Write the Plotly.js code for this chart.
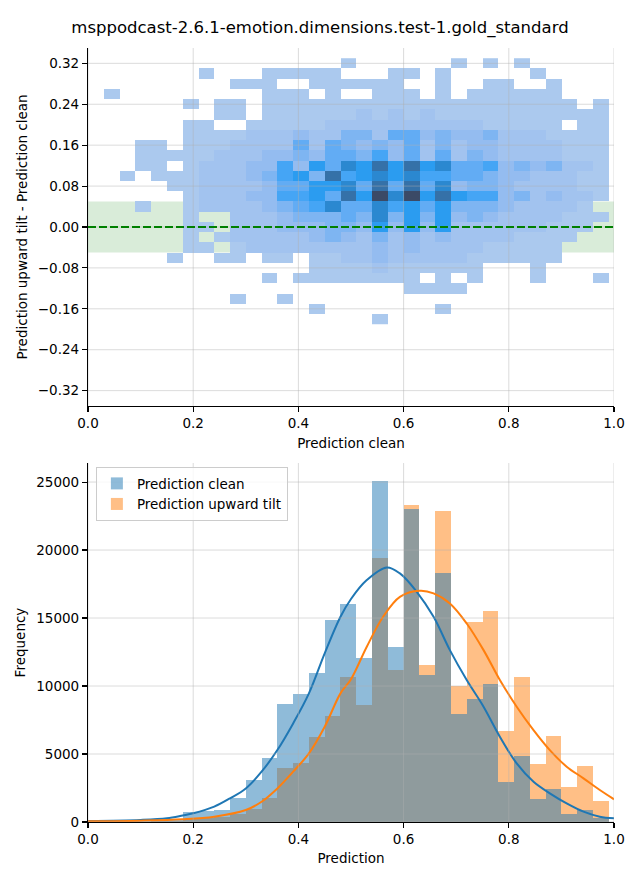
<!DOCTYPE html>
<html>
<head>
<meta charset="utf-8">
<script src="https://cdn.plot.ly/plotly-3.0.1.min.js"></script>
<style>html,body{margin:0;padding:0;background:#fff;}#chart{width:640px;height:880px;}</style>
</head>
<body>
<div id="chart"></div>
<script>
// ---------- data ----------
const titleText = "msppodcast-2.6.1-emotion.dimensions.test-1.gold_standard";

// bin centres (Prediction clean), bin width 0.03
const binCenters = [0.015,0.045,0.075,0.105,0.135,0.165,0.195,0.225,0.255,0.285,0.315,0.345,0.375,0.405,0.435,0.465,0.495,0.525,0.555,0.585,0.615,0.645,0.675,0.705,0.735,0.765,0.795,0.825,0.855,0.885,0.915,0.945,0.975];
const binWidth = 0.03;

// 2-D histogram rows (difference bin centres, top to bottom) and count levels per cell (0 = empty)
const diffCenters = [0.32,0.30,0.28,0.26,0.24,0.22,0.20,0.18,0.16,0.14,0.12,0.10,0.08,0.06,0.04,0.02,0.00,-0.02,-0.04,-0.06,-0.08,-0.10,-0.12,-0.14,-0.16,-0.18];
const cellLevels = [
  [0,0,0,0,0,0,0,0,0,0,0,0,0,0,0,0,1,0,0,0,0,0,0,1,0,1,0,1,0,0,0,0,0],
  [0,0,0,0,0,0,0,1,0,0,0,1,1,1,1,1,0,0,0,1,1,0,1,0,0,0,0,0,1,0,0,0,0],
  [0,0,0,0,0,0,0,0,0,1,1,1,0,0,1,1,1,1,1,1,0,0,1,0,0,1,1,0,0,1,0,0,0],
  [0,1,0,0,0,0,0,0,0,0,0,1,1,1,0,1,0,0,1,1,1,0,1,0,1,1,1,1,1,1,0,0,0],
  [0,0,0,0,0,0,1,0,1,1,0,1,1,1,1,1,1,1,1,1,1,1,1,1,1,1,1,1,1,1,1,0,1],
  [0,0,0,0,0,0,0,0,1,1,0,1,1,1,1,1,1,2,1,2,1,2,1,1,1,1,1,1,1,1,1,1,1],
  [0,0,0,0,0,0,1,1,0,0,1,1,1,1,1,2,2,2,2,2,2,2,2,2,2,1,1,1,1,1,0,1,1],
  [0,0,0,0,0,0,1,1,1,1,2,2,2,3,2,2,4,4,2,5,5,3,4,3,3,4,2,2,2,1,1,1,1],
  [0,0,0,1,1,0,1,1,1,2,2,2,2,5,2,5,4,3,4,3,5,2,4,2,3,3,2,2,2,2,1,1,1],
  [0,0,0,1,1,1,1,1,2,2,2,3,3,4,3,5,5,4,6,3,5,2,5,2,4,3,2,2,2,2,1,1,1],
  [0,0,0,1,1,0,1,2,2,2,3,3,6,3,7,5,8,7,9,7,9,7,8,5,5,6,3,4,3,4,2,2,1],
  [0,0,1,0,1,1,1,2,2,2,3,4,6,7,4,9,6,7,8,7,8,6,6,5,5,4,3,3,2,2,2,1,1],
  [0,0,0,0,0,1,1,2,2,2,2,3,5,5,7,7,8,5,9,5,9,5,8,3,4,4,3,2,2,2,2,1,1],
  [0,0,0,0,0,0,1,2,2,2,3,3,6,6,7,5,9,7,10,8,10,7,9,7,6,6,3,4,2,3,2,2,1],
  [0,0,0,1,0,0,1,2,2,2,2,3,4,5,6,8,5,5,8,6,7,5,7,4,4,4,3,2,2,2,2,1,0],
  [0,0,0,0,0,0,1,0,0,2,2,2,3,4,4,4,5,4,8,4,7,4,7,3,4,3,2,2,2,2,1,1,1],
  [0,0,0,0,0,0,1,1,0,2,2,2,3,3,3,4,4,3,7,3,7,3,7,2,2,2,2,2,2,1,1,1,0],
  [0,0,0,0,0,0,1,0,1,2,2,2,2,2,3,4,3,2,4,2,3,2,3,2,2,2,2,1,1,1,1,0,0],
  [0,0,0,0,0,0,1,1,0,1,2,2,2,2,2,2,2,2,3,2,3,2,2,2,2,1,1,1,1,1,0,0,0],
  [0,0,0,0,0,1,0,0,1,1,0,1,1,0,1,1,2,2,3,2,2,2,2,2,1,1,1,1,1,1,0,0,0],
  [0,0,0,0,0,0,0,0,0,0,0,0,0,0,1,1,1,1,2,1,1,1,1,1,1,0,0,0,1,0,0,0,0],
  [0,0,0,0,0,0,0,0,0,0,0,1,0,1,1,1,1,1,1,1,1,0,1,0,1,0,0,0,1,0,0,0,1],
  [0,0,0,0,0,0,0,0,0,0,0,0,0,0,0,0,0,0,0,0,1,1,1,1,0,0,0,0,0,0,0,0,0],
  [0,0,0,0,0,0,0,0,0,1,0,0,1,0,0,0,0,0,0,0,0,0,0,0,0,0,0,0,0,0,0,0,0],
  [0,0,0,0,0,0,0,0,0,0,0,0,0,0,1,0,0,0,0,0,0,0,1,0,0,0,0,0,0,0,0,0,0],
  [0,0,0,0,0,0,0,0,0,0,0,0,0,0,0,0,0,0,1,0,0,0,0,0,0,0,0,0,0,0,0,0,0]
];

// 1-D histograms (counts per bin)
const countsClean = [20,30,40,60,120,250,760,780,880,1790,3090,4730,8670,9410,10980,14850,16020,12050,25060,12860,23010,10800,18300,7960,9040,10140,2960,4880,1690,2430,590,880,270];
const countsTilt  = [10,10,20,30,50,100,200,270,400,600,960,1790,3940,4340,6270,7790,10660,8620,19400,11170,23300,11540,22860,9970,14700,15510,6690,10660,4260,6320,2570,4120,1540];

// KDE curves (scaled to counts)
const kdeCleanX = [0,0.1,0.15,0.18,0.2,0.24,0.27,0.3,0.33,0.36,0.39,0.42,0.45,0.48,0.5,0.53,0.568,0.593,0.625,0.657,0.688,0.72,0.752,0.783,0.815,0.847,0.878,0.91,0.942,0.973,1.0];
const kdeCleanY = [70,150,270,480,640,1130,1740,2470,3700,5290,7250,9460,12400,15090,16400,17790,18720,18280,16930,15090,12640,10440,8480,6270,4310,2960,2110,1370,760,390,270];
const kdeTiltX  = [0,0.1,0.18,0.24,0.3,0.33,0.36,0.39,0.42,0.45,0.48,0.5,0.53,0.561,0.593,0.631,0.657,0.688,0.72,0.752,0.783,0.815,0.847,0.878,0.91,0.942,0.973,1.0];
const kdeTiltY  = [50,100,200,390,880,1490,2470,3700,5050,7010,9460,10500,12890,15090,16560,17000,16810,16070,14600,12640,10440,8480,6760,5290,4070,3210,2350,1670];

// tolerance band and reference line
const tolerance = 0.05;
const refLine = 0.0;

// tick labels
const xTicks = [0,0.2,0.4,0.6,0.8,1.0];
const diffTicks = [-0.32,-0.24,-0.16,-0.08,0,0.08,0.16,0.24,0.32];
const freqTicks = [0,5000,10000,15000,20000,25000];

// ---------- styling ----------
const FONT = "DejaVu Sans, Liberation Sans, sans-serif";
const BLUE = "#1f77b4", ORANGE = "#ff7f0e";
const GRID = "rgba(176,176,176,0.45)";
const levelColors = ["#abc9ee","#a2c3ef","#94bcf0","#7eb5f2","#62acf4","#45a5f5","#2b9cf0","#2b88d0","#3571a8","#3b4a66"];
const colorscale = levelColors.map((c,i)=>[i/(levelColors.length-1), c]);

const zAsc = cellLevels.slice().reverse().map(r => r.map(v => v === 0 ? null : v));
const yAsc = diffCenters.slice().reverse();

const traces = [
  {type:"heatmap", x:binCenters, y:yAsc, z:zAsc, colorscale:colorscale, zmin:1, zmax:10,
   showscale:false, xaxis:"x", yaxis:"y", hoverinfo:"skip"},
  {type:"bar", x:binCenters, y:countsTilt, width:binWidth, name:"Prediction upward tilt",
   marker:{color:"rgba(255,127,14,0.5)", line:{width:0}}, xaxis:"x2", yaxis:"y2", legendrank:2},
  {type:"bar", x:binCenters, y:countsClean, width:binWidth, name:"Prediction clean",
   marker:{color:"rgba(31,119,180,0.5)", line:{width:0}}, xaxis:"x2", yaxis:"y2", legendrank:1},
  {type:"scatter", mode:"lines", x:kdeCleanX, y:kdeCleanY, line:{color:BLUE, width:2, shape:"spline"},
   showlegend:false, xaxis:"x2", yaxis:"y2"},
  {type:"scatter", mode:"lines", x:kdeTiltX, y:kdeTiltY, line:{color:ORANGE, width:2, shape:"spline"},
   showlegend:false, xaxis:"x2", yaxis:"y2"}
];

const axisCommon = {
  showline:true, linecolor:"#000", linewidth:1.1, ticks:"outside", ticklen:5, tickwidth:1.1, tickcolor:"#000",
  showgrid:false, zeroline:false, mirror:false, layer:"above traces",
  tickfont:{family:FONT, size:13.5, color:"#000"}, automargin:false
};

// grid lines drawn above the marks (as in the reference), at the tick positions
function vGrid(xr, yr, ticks){ return ticks.map(t => ({type:"line", xref:xr, yref:yr+" domain", x0:t, x1:t, y0:0, y1:1, layer:"above", line:{color:GRID, width:1}})); }
function hGrid(xr, yr, ticks){ return ticks.map(t => ({type:"line", xref:xr+" domain", yref:yr, x0:0, x1:1, y0:t, y1:t, layer:"above", line:{color:GRID, width:1}})); }

const shapes = [
  {type:"rect", xref:"x domain", yref:"y", x0:0, x1:1, y0:-tolerance, y1:tolerance, layer:"below",
   fillcolor:"rgba(0,128,0,0.15)", line:{width:0}}
].concat(
  vGrid("x","y",xTicks), hGrid("x","y",diffTicks),
  vGrid("x2","y2",xTicks), hGrid("x2","y2",freqTicks),
  [{type:"line", xref:"x domain", yref:"y", x0:0, x1:1, y0:refLine, y1:refLine, layer:"above",
    line:{color:"#008000", width:2, dash:"8px,3px"}}]
);

const layout = {
  width:640, height:880,
  margin:{l:88, r:26, t:48, b:58},
  paper_bgcolor:"#fff", plot_bgcolor:"#fff",
  font:{family:FONT, color:"#000"},
  title:{text:titleText, x:0.5, xref:"container", xanchor:"center", y:1-27/880, yref:"container", yanchor:"middle",
         font:{family:FONT, size:16.5, color:"#000"}},
  barmode:"overlay", bargap:0,
  showlegend:true,
  legend:{x:0.015, y:0.4585, xanchor:"left", yanchor:"top", xref:"paper", yref:"paper",
          bgcolor:"rgba(255,255,255,0.8)", bordercolor:"#cccccc", borderwidth:1,
          font:{family:FONT, size:13.5, color:"#000"}},
  xaxis:Object.assign({}, axisCommon, {domain:[0,1], anchor:"y", range:[0,1], tickvals:xTicks, tickformat:".1f",
          title:{text:"Prediction clean", font:{family:FONT, size:13.5, color:"#000"}, standoff:8}}),
  yaxis:Object.assign({}, axisCommon, {domain:[0.5375,1], anchor:"x", range:[-0.35,0.35], tickvals:diffTicks, tickformat:".2f",
          title:{text:"Prediction upward tilt - Prediction clean", font:{family:FONT, size:13.5, color:"#000"}, standoff:7}}),
  xaxis2:Object.assign({}, axisCommon, {domain:[0,1], anchor:"y2", range:[0,1], tickvals:xTicks, tickformat:".1f",
          title:{text:"Prediction", font:{family:FONT, size:13.5, color:"#000"}, standoff:7}}),
  yaxis2:Object.assign({}, axisCommon, {domain:[0,0.4638], anchor:"x2", range:[0,26400], tickvals:freqTicks, tickformat:"d",
          title:{text:"Frequency", font:{family:FONT, size:13.5, color:"#000"}, standoff:7}}),
  shapes:shapes,
  hovermode:false
};

Plotly.newPlot("chart", traces, layout, {staticPlot:true, displayModeBar:false});
</script>
</body>
</html>
